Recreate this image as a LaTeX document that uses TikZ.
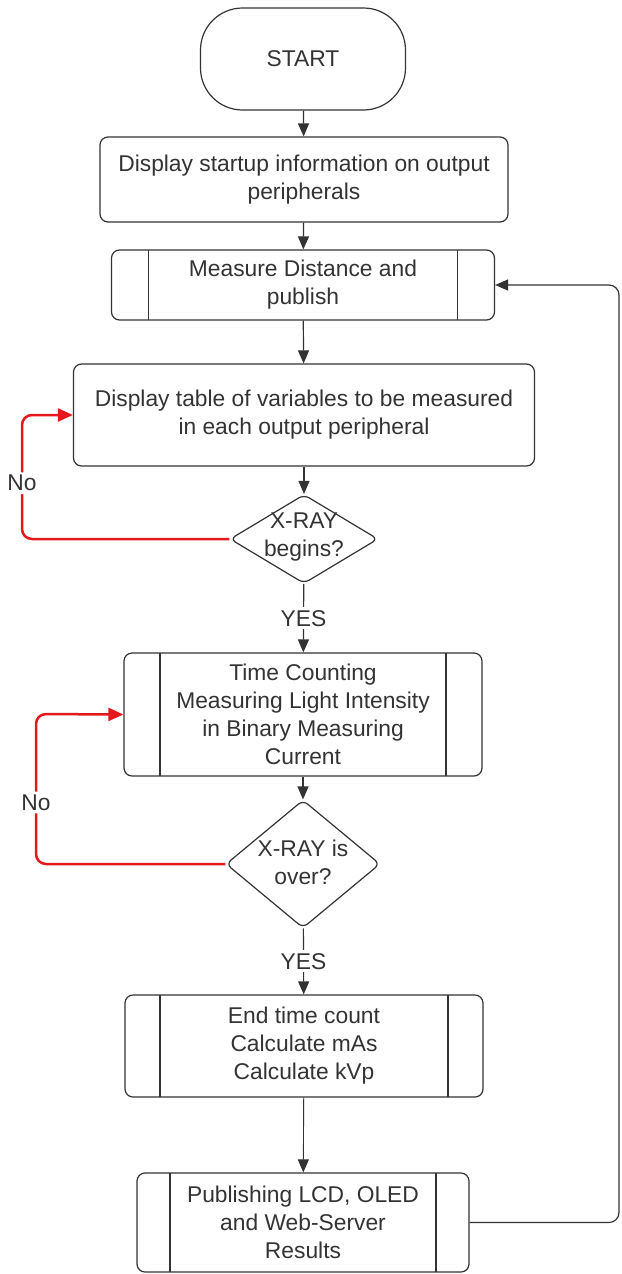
\documentclass[tikz,border=0pt]{standalone}
\usepackage{fontspec}
\setmainfont{Liberation Sans}
\usetikzlibrary{shapes.geometric,arrows.meta}
\definecolor{ink}{HTML}{333333}
\definecolor{loopred}{HTML}{E3191C}
\begin{document}
\begin{tikzpicture}[x=1pt,y=-1pt,
  font=\fontsize{22.8}{28}\selectfont, text=ink,
  every node/.style={inner sep=0pt},
  box/.style={draw=ink, line width=1.2pt, rounded corners=8pt, align=center},
  term/.style={box, rounded corners=42pt},
  predef/.style={box, path picture={
     \draw[ink,line width=1.2pt] ([xshift=#1]path picture bounding box.north west) -- ([xshift=#1]path picture bounding box.south west);
     \draw[ink,line width=1.2pt] ([xshift=-#1]path picture bounding box.north east) -- ([xshift=-#1]path picture bounding box.south east);}},
  dia/.style={diamond, draw=ink, line width=1.2pt, rounded corners=6pt},
  flow/.style={draw=ink, line width=1.2pt, -{Triangle[length=13pt,width=11pt]}},
  noflow/.style={draw=loopred, line width=2.5pt, rounded corners=10pt, -{Triangle[length=15pt,width=13pt]}},
  lbl/.style={fill=white, inner sep=3pt, text=ink}
]
\useasboundingbox (0,0) rectangle (621,1274);

\node[term, minimum width=205pt, minimum height=102pt] (start) at (303,59) {START};
\node[box, minimum width=408pt, minimum height=85pt] (box1) at (304,179.5) {Display startup information on output\\peripherals};
\node[predef=37pt, minimum width=383pt, minimum height=70pt] (box2) at (303,285) {Measure Distance and\\publish};
\node[box, minimum width=461pt, minimum height=102pt] (box3) at (304,415) {Display table of variables to be measured\\in each output peripheral};
\node[dia, minimum width=148pt, minimum height=89pt] (d1) at (304,539) {};
\node[align=center] (d1t) at (304,537) {X-RAY\\begins?};
\node[predef=36pt, minimum width=358pt, minimum height=123pt] (box4) at (303,714.5) {Time Counting\\Measuring Light Intensity\\in Binary Measuring\\Current};
\node[dia, minimum width=154pt, minimum height=128pt] (d2) at (303,864) {};
\node[align=center] (d2t) at (303,862) {X-RAY is\\over?};
\node[predef=35pt, minimum width=358pt, minimum height=102pt] (box5) at (304,1046) {End time count\\Calculate mAs\\Calculate kVp};
\node[predef=33pt, minimum width=332pt, minimum height=99pt] (box6) at (303,1222.5) {Publishing LCD, OLED\\and Web-Server\\Results};

\draw[flow] (start) -- (box1);
\draw[flow] (box1) -- (box2);
\draw[flow] (box2) -- (box3);
\draw[flow] (box3) -- (d1);
\draw[flow] (d1) -- node[lbl] (yes1) {YES} (box4);
\draw[noflow] (d1.west) -- (22,539) -- node[lbl, pos=0.45] (no1) {No} (22,415) -- (box3.west);
\draw[flow] (box4) -- (d2);
\draw[noflow] (d2.west) -- (36,864) -- node[lbl, pos=0.41] (no2) {No} (36,714) -- (box4.west);
\draw[flow] (d2) -- node[lbl] (yes2) {YES} (box5);
\draw[flow, line width=0.9pt] (box5) -- (box6);
\draw[flow, rounded corners=10pt] (box6.east) -- (619,1222.5) -- (619,285) -- (box2.east);
\end{tikzpicture}
\end{document}
